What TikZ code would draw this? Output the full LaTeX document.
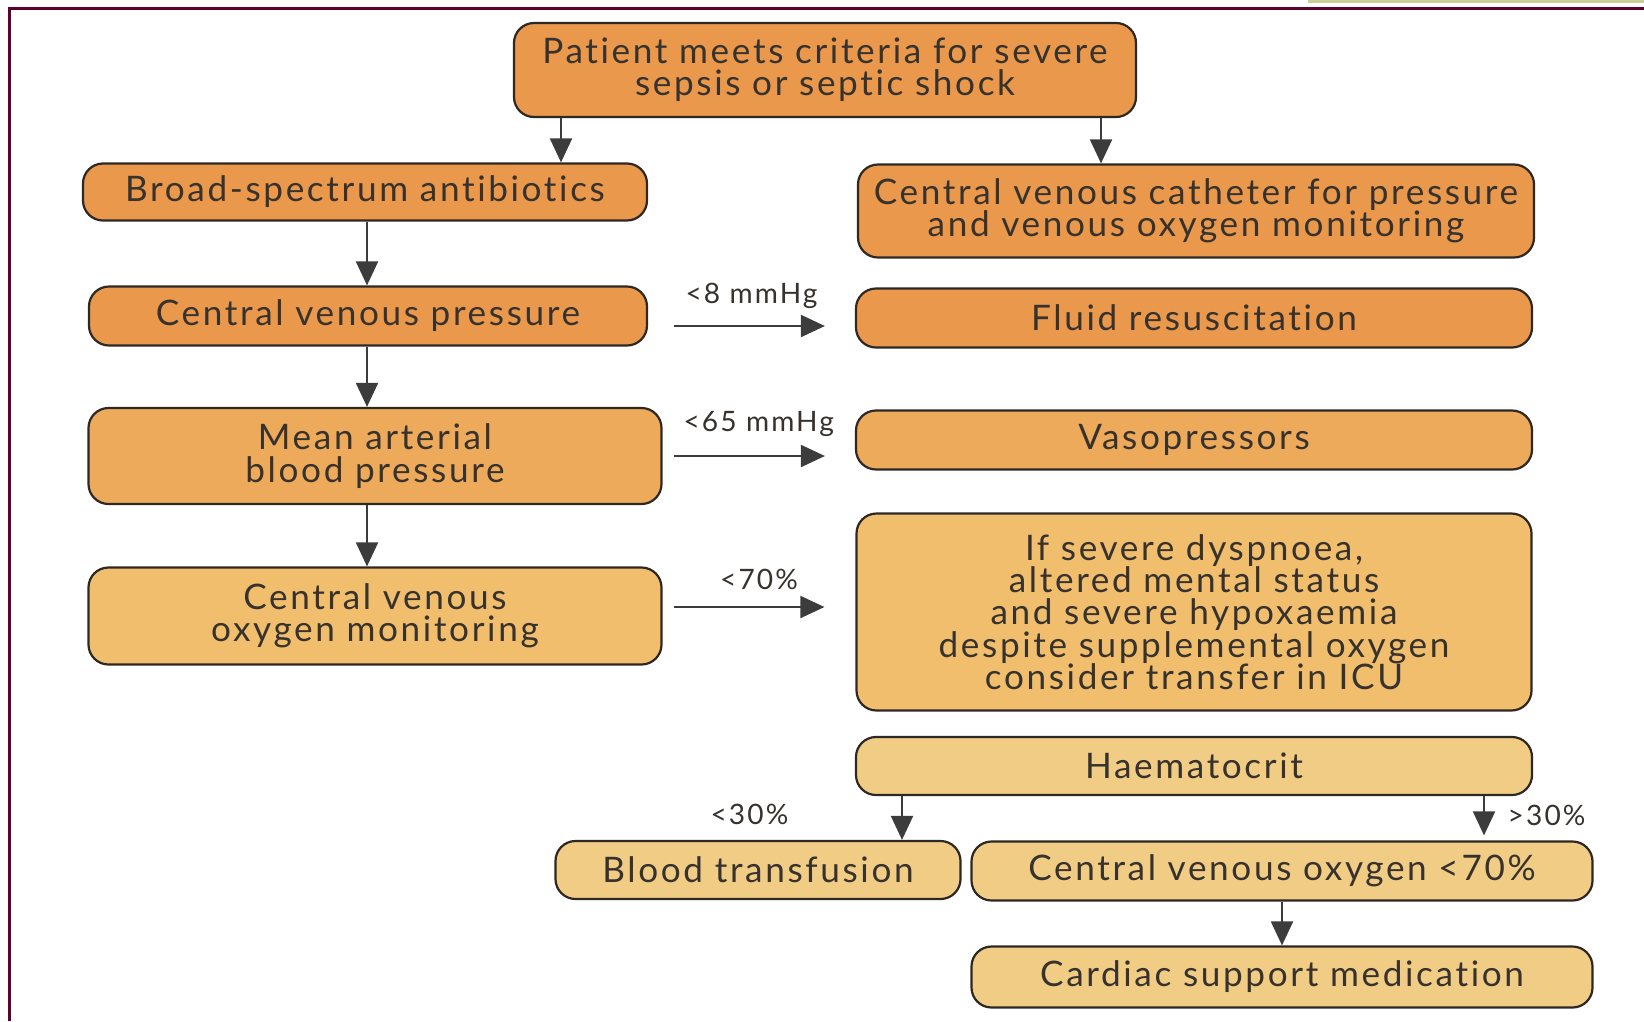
\documentclass[tikz,border=0pt]{standalone}
\usepackage{fontspec}
\setmainfont{Lato}[LetterSpace=7.5,Ligatures=NoCommon]
\usetikzlibrary{arrows.meta}
\definecolor{framecol}{RGB}{94,0,48}
\definecolor{barcol}{RGB}{205,205,150}
\definecolor{boxline}{RGB}{45,40,35}
\definecolor{arrowcol}{RGB}{60,60,60}
\definecolor{textcol}{RGB}{55,50,45}
\definecolor{orangeA}{RGB}{233,152,76}
\definecolor{orangeB}{RGB}{236,170,90}
\definecolor{tanC}{RGB}{240,190,108}
\definecolor{tanD}{RGB}{240,204,132}

\begin{document}
\begin{tikzpicture}[x=0.25mm,y=-0.25mm,
    box/.style={draw=boxline,line width=0.55mm,rounded corners=5mm,align=center,inner sep=0pt,text=textcol,font=\fontsize{25}{23}\selectfont},
    arr/.style={draw=arrowcol,line width=0.5mm,-{Triangle[width=5.5mm,length=6mm]}},
    lab/.style={text=textcol,font=\fontsize{20}{20}\selectfont}]
    \useasboundingbox (0,0) rectangle (1644,1021);
    \fill[barcol] (1308,0) rectangle (1644,3);
    \draw[framecol,line width=0.75mm] (1644,8.5) -- (9,8.5) -- (9,1021);

    \node[box,fill=orangeA,minimum width=155.5mm,minimum height=23.5mm] (patient) at (825,70) {Patient meets criteria for severe\\sepsis or septic shock};
    \node[box,fill=orangeA,minimum width=141mm,minimum height=14.25mm] (antibiotics) at (365,192) {Broad-spectrum antibiotics};
    \node[box,fill=orangeA,minimum width=169mm,minimum height=23.25mm] (catheter) at (1196,211) {Central venous catheter for pressure\\and venous oxygen monitoring};
    \node[box,fill=orangeA,minimum width=139.5mm,minimum height=14.75mm] (cvp) at (368,316) {Central venous pressure};
    \node[box,fill=orangeA,minimum width=169mm,minimum height=14.75mm] (fluid) at (1194,318) {Fluid resuscitation};
    \node[box,fill=orangeB,minimum width=143.25mm,minimum height=24mm] (map) at (375,456) {Mean arterial\\blood pressure};
    \node[box,fill=orangeB,minimum width=169mm,minimum height=14.75mm] (vaso) at (1194,440) {Vasopressors};
    \node[box,fill=tanC,minimum width=143.25mm,minimum height=24.25mm] (oxymon) at (375,616) {Central venous\\oxygen monitoring};
    \node[box,fill=tanC,minimum width=168.75mm,minimum height=49.25mm] (icu) at (1194,612) {If severe dyspnoea,\\altered mental status\\and severe hypoxaemia\\despite supplemental oxygen\\consider transfer in ICU};
    \node[box,fill=tanD,minimum width=169mm,minimum height=14.5mm] (haem) at (1194,766) {Haematocrit};
    \node[box,fill=tanD,minimum width=101.25mm,minimum height=14.5mm] (transfusion) at (758,870) {Blood transfusion};
    \node[box,fill=tanD,minimum width=155.25mm,minimum height=14.75mm] (oxylow) at (1282,871) {Central venous oxygen <70\%};
    \node[box,fill=tanD,minimum width=155.25mm,minimum height=15.25mm] (cardiac) at (1282,977) {Cardiac support medication};

    \coordinate (p1) at (561,0);
    \coordinate (p2) at (1101,0);
    \coordinate (l1) at (367,0);
    \coordinate (h1) at (902,0);
    \coordinate (h2) at (1484,0);
    \draw[arr] (patient.south -| p1) -- (antibiotics.north -| p1);
    \draw[arr] (patient.south -| p2) -- (catheter.north -| p2);
    \draw[arr] (antibiotics.south -| l1) -- (cvp.north -| l1);
    \draw[arr] (cvp.south -| l1) -- (map.north -| l1);
    \draw[arr] (map.south -| l1) -- (oxymon.north -| l1);
    \draw[arr,shorten <=6.5mm,shorten >=7.5mm] ([yshift=-2.5mm]cvp.east) -- ([yshift=-2.5mm]cvp.east -| fluid.west) node[lab,midway,above=3mm] {<8 mmHg};
    \draw[arr,shorten <=2.75mm,shorten >=7.5mm] (map.east) -- (map.east -| vaso.west) node[lab,midway,above=3.5mm] {<65 mmHg};
    \draw[arr,shorten <=2.75mm,shorten >=7.75mm] ([yshift=2.25mm]oxymon.east) -- ([yshift=2.25mm]oxymon.east -| icu.west) node[lab,midway,above=3mm] {<70\%};
    \draw[arr] (haem.south -| h1) -- (transfusion.north -| h1) node[lab,midway,left=27mm,yshift=1mm] {<30\%};
    \draw[arr] (haem.south -| h2) -- ([yshift=1.25mm]oxylow.north -| h2) node[lab,midway,right=4.5mm] {>30\%};
    \draw[arr] (oxylow.south) -- (cardiac.north);
\end{tikzpicture}
\end{document}
